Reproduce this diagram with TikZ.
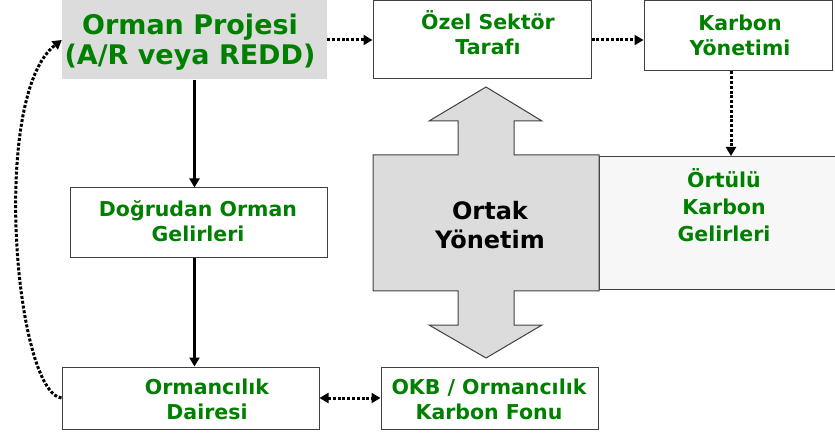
\documentclass[tikz,border=0pt]{standalone}
\usepackage{fontspec}
\setmainfont{DejaVu Sans}
\usetikzlibrary{arrows.meta}
\definecolor{tgreen}{HTML}{008000}
\definecolor{boxgray}{HTML}{DCDCDC}
\definecolor{lightbox}{HTML}{F7F7F7}
\definecolor{edgegray}{HTML}{404040}
\tikzset{
  box/.style={draw=edgegray, line width=1pt, fill=white, rectangle, inner sep=0pt},
  gtext/.style={text=tgreen, font=\bfseries\fontsize{20.5}{25}\selectfont, align=center, inner sep=0pt},
  tip/.style={Triangle[length=9pt,width=10pt]},
  dotarrow/.style={line width=3pt, dash pattern=on 3pt off 1.8pt, -{Triangle[length=9pt,width=10pt]}},
  solidarrow/.style={line width=3.5pt, -{Triangle[length=9pt,width=10pt]}},
}
\begin{document}
\begin{tikzpicture}[x=1pt,y=-1pt]
\useasboundingbox (0,0) rectangle (835,438);
% boxes
\node[fill=boxgray, minimum width=265pt, minimum height=79pt, inner sep=0pt] (proj) at (194.5,40) {};
\node[gtext, font=\bfseries\fontsize{27}{30}\selectfont] (projt) at (190,42) {Orman Projesi\\(A/R veya REDD)};
\node[box, minimum width=218pt, minimum height=78pt] (ozel) at (482,40) {};
\node[gtext] (ozelt) at (488,33) {Özel Sektör\\Tarafı};
\node[box, minimum width=188pt, minimum height=70pt] (karb) at (738,36) {};
\node[gtext] (karbt) at (740,35) {Karbon\\Yönetimi};
\node[box, minimum width=257pt, minimum height=70pt] (dog) at (198.5,223) {};
\node[gtext] (dogt) at (198,221) {Doğrudan Orman\\Gelirleri};
\node[box, minimum width=257pt, minimum height=62pt] (daire) at (190.5,398) {};
\node[gtext] (dairet) at (207,399) {Ormancılık\\Dairesi};
\node[box, minimum width=217pt, minimum height=62pt] (okb) at (489.5,398) {};
\node[gtext] (okbt) at (489,399) {OKB / Ormancılık\\Karbon Fonu};
\node[box, fill=lightbox, minimum width=240pt, minimum height=133pt, anchor=north west] (ortulu) at (599,156) {};
\node[gtext, font=\bfseries\fontsize{20.5}{27}\selectfont] (ortulut) at (724,205) {Örtülü\\Karbon\\Gelirleri};
% double arrow shape
\draw[draw=edgegray, line width=1pt, fill=boxgray]
  (486,87) -- (542,121) -- (514,121) -- (514,155) -- (599,155) -- (599,291) -- (514,291)
  -- (514,325) -- (542,325) -- (486,358) -- (429,325) -- (458,325) -- (458,291)
  -- (373,291) -- (373,155) -- (458,155) -- (458,121) -- (429,121) -- cycle;
\node[font=\bfseries\fontsize{24}{29}\selectfont, align=center, inner sep=0pt] (ortak) at (490,225) {Ortak\\Yönetim};
% connectors
\draw[dotarrow] (proj.east) -- (ozel.west);
\draw[dotarrow] (ozel.east) -- (ozel.east -| karb.west);
\draw[dotarrow] (karb.south -| 731,0) -- (ortulu.north -| 731,0);
\draw[solidarrow] (proj.south) -- (dog.north -| proj.south);
\draw[solidarrow] (dog.south -| proj.south) -- (daire.north -| proj.south);
\draw[dotarrow, {Triangle[length=9pt,width=10pt]}-{Triangle[length=9pt,width=10pt]}] (daire.east) -- (okb.west);
\draw[dotarrow] (daire.west) .. controls (15,392) and (-10,95) .. (proj.west);
\end{tikzpicture}
\end{document}
